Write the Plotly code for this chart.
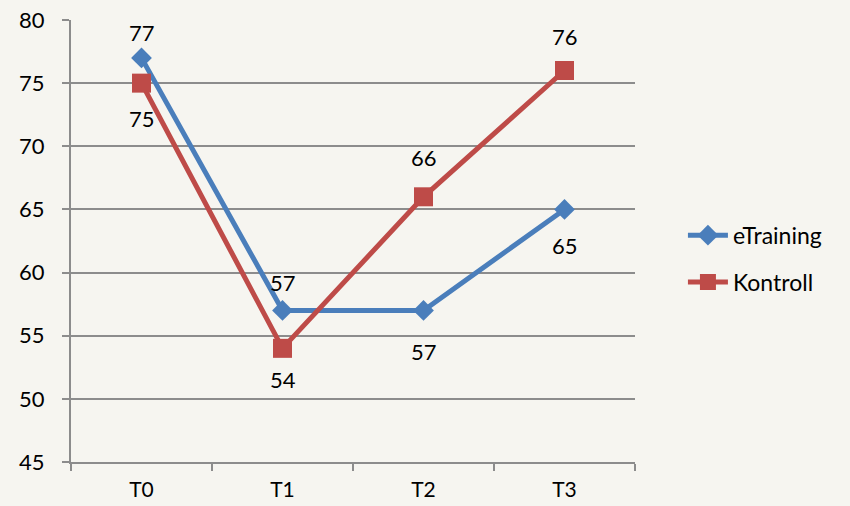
import plotly.graph_objects as go

categories = ["T0", "T1", "T2", "T3"]
etraining = [77, 57, 57, 65]
kontroll = [75, 54, 66, 76]
y_ticks = [45, 50, 55, 60, 65, 70, 75, 80]

# label offsets (pixels, + = above the point)
etraining_shift = [25, 28, -41, -36]
kontroll_shift = [-35, -31, 39, 34]

BLUE = "#4A7EBB"
RED = "#BE4B48"
GRID = "#8C8C8C"
BG = "#F6F5F0"
FONT = "Lato, Open Sans, sans-serif"

fig = go.Figure()
fig.add_trace(go.Scatter(
    x=categories, y=etraining, name="eTraining", mode="lines+markers",
    line=dict(color=BLUE, width=5),
    marker=dict(symbol="diamond", size=16, color=BLUE),
    legendgroup="a",
))
fig.add_trace(go.Scatter(
    x=categories, y=kontroll, name="Kontroll", mode="lines+markers",
    line=dict(color=RED, width=5),
    marker=dict(symbol="square", size=19, color=RED),
    legendgroup="b",
))

for vals, shifts in ((etraining, etraining_shift), (kontroll, kontroll_shift)):
    for c, v, s in zip(categories, vals, shifts):
        fig.add_annotation(
            x=c, y=v, text=str(v), showarrow=False, yshift=s,
            font=dict(size=22, color="black", family=FONT),
        )

fig.update_layout(
    width=850, height=506,
    margin=dict(l=71, r=215, t=20, b=44),
    paper_bgcolor=BG, plot_bgcolor=BG,
    font=dict(family=FONT, size=21, color="black"),
    showlegend=True,
    legend=dict(x=1.085, y=0.46, xanchor="left", yanchor="middle",
                bgcolor="rgba(0,0,0,0)", font=dict(size=23),
                tracegroupgap=14, itemwidth=40),
    xaxis=dict(
        type="category", range=[-0.5, 3.5], tickson="boundaries",
        showgrid=False, automargin=False,
        showline=True, linecolor=GRID, linewidth=2,
        ticks="outside", ticklen=7, tickcolor=GRID, tickwidth=2,
        tickfont=dict(size=21), zeroline=False, ticklabelstandoff=8,
    ),
    yaxis=dict(
        range=[45, 80], tickvals=y_ticks, ticktext=[str(v) for v in y_ticks],
        showgrid=True, gridcolor=GRID, gridwidth=1.5, automargin=False,
        showline=True, linecolor=GRID, linewidth=2,
        ticks="outside", ticklen=7, tickcolor=GRID, tickwidth=2,
        tickfont=dict(size=22), zeroline=False, ticklabelstandoff=13,
    ),
)

fig.write_html(
    "out.html",
    config={"displayModeBar": False},
    post_script="document.body.style.margin='0';document.body.style.background='#F6F5F0';",
)
